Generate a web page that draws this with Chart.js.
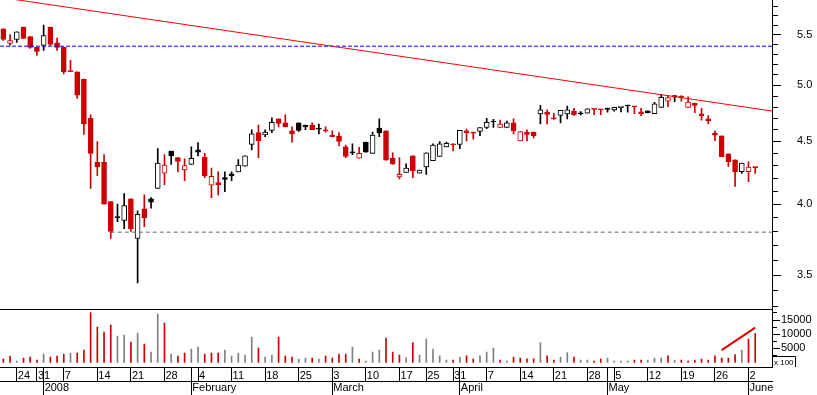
<!DOCTYPE html>
<html>
<head>
<meta charset="utf-8">
<script src="https://cdn.jsdelivr.net/npm/chart.js@4.4.1/dist/chart.umd.min.js"></script>
<style>
  html, body { margin: 0; padding: 0; background: #fff; }
</style>
</head>
<body>
<canvas id="chart" width="817" height="395"></canvas>
<script>
// trading days, one list per month
const monthYear = [[2007, 11], [2008, 0], [2008, 1], [2008, 2], [2008, 3], [2008, 4], [2008, 5]];
const monthLabels = ['', '2008', 'February', 'March', 'April', 'May', 'June'];
const monthDays = [
  [20, 21, 24, 27, 28, 31],
  [2, 3, 4, 7, 8, 9, 10, 11, 14, 15, 16, 17, 18, 21, 22, 23, 24, 25, 28, 29, 30, 31],
  [1, 4, 5, 6, 7, 8, 11, 12, 13, 14, 15, 18, 19, 20, 21, 22, 25, 26, 27, 28, 29],
  [3, 4, 5, 6, 7, 10, 11, 12, 13, 14, 17, 18, 19, 20, 25, 26, 27, 28, 31],
  [1, 2, 3, 4, 7, 8, 9, 10, 11, 14, 15, 16, 17, 18, 21, 22, 23, 24, 25, 28, 29, 30],
  [1, 5, 6, 7, 8, 9, 12, 13, 14, 15, 16, 19, 20, 21, 22, 23, 26, 27, 28, 29, 30],
  [2, 3]
];

const opens = [
  5.56, 5.41, 5.45, 5.58, 5.48, 5.37, 5.39, 5.58, 5.415, 5.37,
  5.14, 5.13, 5.06, 4.70, 4.33, 4.33, 4.02, 3.90, 3.88, 4.04,
  3.75, 3.965, 4.04, 4.12, 4.24, 4.42, 4.365, 4.265, 4.31, 4.43,
  4.37, 4.145, 4.165, 4.205, 4.235, 4.25, 4.295, 4.475, 4.575, 4.555,
  4.595, 4.695, 4.66, 4.59, 4.66, 4.64, 4.64, 4.615, 4.60, 4.555,
  4.545, 4.455, 4.405, 4.36, 4.495, 4.40, 4.615, 4.59, 4.36, 4.21,
  4.245, 4.38, 4.24, 4.29, 4.34, 4.375, 4.455, 4.48, 4.475, 4.59,
  4.58, 4.585, 4.62, 4.668, 4.62, 4.62, 4.66, 4.505, 4.58, 4.58,
  4.74, 4.755, 4.705, 4.725, 4.74, 4.765, 4.74, 4.745, 4.782, 4.778,
  4.792, 4.775, 4.795, 4.818, 4.807, 4.757, 4.767, 4.742, 4.798, 4.855,
  4.905, 4.895, 4.798, 4.837, 4.74, 4.695, 4.57, 4.547, 4.397, 4.347,
  4.252, 4.252, 4.288
];
const highs = [
  5.56, 5.50, 5.53, 5.58, 5.48, 5.37, 5.60, 5.58, 5.465, 5.37,
  5.24, 5.13, 5.06, 4.73, 4.50, 4.39, 4.02, 4.00, 4.08, 4.04,
  3.95, 4.07, 4.05, 4.44, 4.39, 4.42, 4.365, 4.355, 4.455, 4.49,
  4.40, 4.28, 4.25, 4.25, 4.25, 4.35, 4.38, 4.60, 4.64, 4.60,
  4.705, 4.695, 4.73, 4.625, 4.66, 4.64, 4.66, 4.65, 4.625, 4.59,
  4.575, 4.47, 4.48, 4.45, 4.495, 4.58, 4.695, 4.59, 4.405, 4.365,
  4.315, 4.38, 4.265, 4.405, 4.48, 4.50, 4.495, 4.48, 4.595, 4.605,
  4.58, 4.62, 4.70, 4.69, 4.685, 4.675, 4.695, 4.585, 4.60, 4.58,
  4.815, 4.775, 4.745, 4.77, 4.81, 4.79, 4.76, 4.785, 4.782, 4.778,
  4.792, 4.798, 4.808, 4.818, 4.807, 4.79, 4.767, 4.843, 4.914, 4.908,
  4.905, 4.905, 4.893, 4.837, 4.79, 4.724, 4.59, 4.547, 4.397, 4.347,
  4.32, 4.331, 4.288
];
const lows = [
  5.44, 5.39, 5.42, 5.46, 5.36, 5.29, 5.34, 5.39, 5.34, 5.11,
  5.13, 4.88, 4.56, 4.12, 4.22, 4.00, 3.75, 3.87, 3.82, 3.80,
  3.45, 3.835, 3.97, 4.12, 4.15, 4.31, 4.25, 4.18, 4.31, 4.38,
  4.205, 4.05, 4.07, 4.095, 4.18, 4.25, 4.295, 4.43, 4.365, 4.54,
  4.575, 4.625, 4.625, 4.495, 4.585, 4.60, 4.60, 4.565, 4.58, 4.54,
  4.465, 4.365, 4.39, 4.36, 4.41, 4.40, 4.54, 4.345, 4.31, 4.195,
  4.245, 4.205, 4.24, 4.23, 4.34, 4.375, 4.455, 4.42, 4.44, 4.505,
  4.52, 4.55, 4.61, 4.62, 4.62, 4.62, 4.565, 4.505, 4.505, 4.53,
  4.65, 4.65, 4.69, 4.66, 4.695, 4.725, 4.73, 4.745, 4.733, 4.733,
  4.755, 4.763, 4.757, 4.755, 4.742, 4.724, 4.749, 4.742, 4.798, 4.804,
  4.85, 4.854, 4.798, 4.751, 4.683, 4.651, 4.507, 4.374, 4.293, 4.135,
  4.237, 4.173, 4.237
];
const closes = [
  5.45, 5.44, 5.53, 5.46, 5.37, 5.33, 5.49, 5.40, 5.37, 5.13,
  5.13, 4.91, 4.65, 4.40, 4.29, 4.00, 3.80, 3.90, 3.99, 3.82,
  3.925, 3.90, 4.015, 4.32, 4.305, 4.38, 4.335, 4.30, 4.36, 4.41,
  4.22, 4.215, 4.15, 4.19, 4.22, 4.305, 4.38, 4.565, 4.505, 4.58,
  4.665, 4.655, 4.625, 4.565, 4.595, 4.625, 4.60, 4.605, 4.59, 4.54,
  4.50, 4.375, 4.405, 4.40, 4.41, 4.555, 4.575, 4.345, 4.315, 4.23,
  4.28, 4.26, 4.265, 4.405, 4.47, 4.48, 4.485, 4.47, 4.595, 4.575,
  4.57, 4.62, 4.665, 4.668, 4.65, 4.66, 4.59, 4.585, 4.56, 4.55,
  4.775, 4.735, 4.695, 4.77, 4.775, 4.73, 4.74, 4.785, 4.78, 4.775,
  4.78, 4.798, 4.808, 4.81, 4.803, 4.742, 4.749, 4.83, 4.89, 4.887,
  4.893, 4.889, 4.846, 4.815, 4.724, 4.68, 4.553, 4.374, 4.333, 4.252,
  4.32, 4.288, 4.284
];
// volume in hundreds
const volumes = [
  1240, 2300, 530, 1590, 1940, 880, 3000, 1940, 2300, 3000,
  3360, 3360, 4420, 17600, 12550, 10780, 13250, 9360, 9720, 7240,
  10430, 6540, 3710, 17140, 13960, 3000, 2300, 3360, 4770, 5480,
  3000, 3360, 3360, 4420, 2300, 3360, 2650, 9010, 5120, 1940,
  2650, 9010, 2300, 1940, 1240, 1590, 1590, 1240, 2300, 1590,
  3000, 3000, 5480, 1240, 530, 3710, 4420, 8660, 3710, 2650,
  1700, 7000, 2650, 8300, 4770, 2400, 880, 880, 1940, 2400,
  1240, 2400, 3710, 5120, 880, 530, 1940, 1590, 1340, 1340,
  7000, 2400, 880, 1940, 3470, 1940, 880, 880, 530, 1240,
  1590, 530, 530, 530, 880, 880, 880, 1590, 1590, 2400,
  880, 880, 530, 880, 1240, 880, 2400, 1590, 1590, 2760,
  4420, 8300, 10320
];

// drawn studies, in (day index, value)
const resistanceLine = [{x: -0.5, y: 5.90}, {x: 114.5, y: 4.765}];
const blueLevel = [{x: -0.5, y: 5.382}, {x: 114.5, y: 5.382}];
const supportLevel = [{x: 16, y: 3.795}, {x: 114.5, y: 3.795}];
const volumeTrend = [{x: 107, y: 4400}, {x: 112, y: 12300}];

const priceLabels = ['3.5', '4.0', '4.5', '5.0', '5.5'];
const volLabels = [5000, 10000, 15000];

const X_MIN = -0.5, X_MAX = 114.5;
const P_MIN = 3.283, P_MAX = 5.870;
const V_MIN = -1590, V_MAX = 18800;

const RED = '#cc0000', BLACK = '#000000', GREY = '#808080';
const FONT = "'Liberation Sans', Arial, sans-serif";

// day index -> labels for the two date rows
const dayTicks = [];
const monthTicks = [];
{
  let i = 0, prevDow = null;
  monthDays.forEach((days, m) => {
    days.forEach((d, k) => {
      const dow = new Date(monthYear[m][0], monthYear[m][1], d).getDay();
      if (prevDow !== null && dow <= prevDow) dayTicks.push({value: i, label: String(d)});
      if (k === 0 && m > 0) monthTicks.push({value: i, label: monthLabels[m]});
      prevDow = dow;
      i++;
    });
  });
}
const dayLabelAt = {};
dayTicks.forEach(t => { dayLabelAt[t.value] = t.label; });
const monthLabelAt = {};
monthTicks.forEach(t => { monthLabelAt[t.value] = t.label; });
const row1Values = [...new Set(dayTicks.concat(monthTicks).map(t => t.value))].sort((a, b) => a - b);

const idx = closes.map((_, i) => i);
const candleRed = closes.map((c, i) => i === 0 ? c < opens[i] : c <= closes[i - 1]);
const volRed = closes.map((c, i) => i === 0 ? c < opens[i] : c < closes[i - 1]);
const candleColor = candleRed.map(r => r ? RED : BLACK);
const bodyFill = idx.map(i => closes[i] > opens[i] ? '#ffffff' : candleColor[i]);

const fitX = s => { s.height = 14; s.paddingLeft = 0; s.paddingRight = 0; };
const fitY = s => { s.width = 45; s.paddingTop = 0; s.paddingBottom = 0; };
const isPriceMajor = ctx => ctx.tick && priceLabels.includes(ctx.tick.value.toFixed(1));

const extras = {
  id: 'extras',
  afterDraw(chart) {
    const {ctx, chartArea} = chart;
    const vol = chart.scales.vol;
    ctx.save();
    // date rows end at the price axis
    ctx.fillStyle = '#fff';
    ctx.fillRect(chartArea.right + 1, chartArea.bottom + 1, chart.width, chart.height);
    // "x 100" unit box
    const l = Math.round(vol.left), b = Math.round(vol.bottom);
    ctx.strokeStyle = '#000';
    ctx.lineWidth = 1;
    ctx.beginPath();
    ctx.moveTo(l, b - 10.5);
    ctx.lineTo(l + 23.5, b - 10.5);
    ctx.lineTo(l + 23.5, b);
    ctx.stroke();
    ctx.fillStyle = '#000';
    ctx.font = '8px ' + FONT;
    ctx.textBaseline = 'alphabetic';
    ctx.fillText('x 100', l + 2, b - 2);
    ctx.restore();
  }
};

new Chart(document.getElementById('chart'), {
  type: 'bar',
  data: {
    datasets: [
      {
        type: 'line', data: resistanceLine, borderColor: '#ff0000', borderWidth: 1,
        pointRadius: 0, order: 0, xAxisID: 'x', yAxisID: 'y'
      },
      {
        type: 'line', data: blueLevel, borderColor: '#0000ff', borderWidth: 1, borderDash: [4, 2],
        pointRadius: 0, order: 0, xAxisID: 'x', yAxisID: 'y'
      },
      {
        type: 'line', data: supportLevel, borderColor: '#646464', borderWidth: 1, borderDash: [4, 3],
        pointRadius: 0, order: 0, xAxisID: 'x', yAxisID: 'y'
      },
      {
        type: 'line', data: volumeTrend, borderColor: '#dd0000', borderWidth: 2,
        pointRadius: 0, order: 0, xAxisID: 'x', yAxisID: 'vol'
      },
      {
        label: 'body',
        data: idx.map(i => ({x: i, y: [opens[i], closes[i]]})),
        backgroundColor: bodyFill, borderColor: candleColor, borderWidth: 1, borderSkipped: false,
        barThickness: 5, maxBarThickness: 5, minBarLength: 1, grouped: false, order: 1,
        xAxisID: 'x', yAxisID: 'y'
      },
      {
        label: 'wick',
        data: idx.map(i => ({x: i, y: [lows[i], highs[i]]})),
        backgroundColor: candleColor, borderWidth: 0,
        barThickness: 1, maxBarThickness: 1, grouped: false, order: 2,
        xAxisID: 'x', yAxisID: 'y'
      },
      {
        label: 'volume',
        data: idx.map(i => ({x: i, y: volumes[i]})),
        backgroundColor: volRed.map(r => r ? RED : GREY), borderWidth: 0,
        barThickness: 1, maxBarThickness: 1, grouped: false, order: 3,
        xAxisID: 'x', yAxisID: 'vol'
      }
    ]
  },
  options: {
    responsive: false,
    animation: false,
    devicePixelRatio: 1,
    events: [],
    layout: { padding: 0 },
    plugins: { legend: { display: false }, tooltip: { enabled: false } },
    scales: {
      x: {
        type: 'linear', position: 'bottom', min: X_MIN, max: X_MAX, offset: false,
        afterBuildTicks: s => { s.ticks = row1Values.map(v => ({value: v})); },
        afterFit: fitX,
        ticks: {
          autoSkip: false, maxRotation: 0, minRotation: 0, align: 'start', padding: -11.8, labelOffset: 1,
          color: '#000', font: { family: FONT, size: 11 },
          callback: v => dayLabelAt[v] || ''
        },
        grid: { drawOnChartArea: false, offset: false, tickLength: 14, tickColor: '#000', color: '#000' },
        border: { color: '#000' }
      },
      x2: {
        type: 'linear', axis: 'x', position: 'bottom', min: X_MIN, max: X_MAX, offset: false,
        afterBuildTicks: s => { s.ticks = monthTicks.map(t => ({value: t.value})); },
        afterFit: fitX,
        ticks: {
          autoSkip: false, maxRotation: 0, minRotation: 0, align: 'start', padding: -13.3, labelOffset: 1,
          color: '#000', font: { family: FONT, size: 11 },
          callback: v => monthLabelAt[v] || ''
        },
        grid: { drawOnChartArea: false, offset: false, tickLength: 14, tickColor: '#000', color: '#000' },
        border: { color: '#000' }
      },
      y: {
        type: 'logarithmic', position: 'right', stack: 'panels', stackWeight: 309.3,
        min: P_MIN, max: P_MAX, bounds: 'data',
        afterBuildTicks: s => {
          const t = [];
          for (let k = 33; k <= 58; k++) t.push({value: k / 10});
          s.ticks = t;
        },
        afterFit: fitY,
        ticks: {
          autoSkip: false, padding: 16, color: '#000', font: { family: FONT, size: 11 },
          callback: v => { const l = Number(v).toFixed(1); return priceLabels.includes(l) ? l : ''; }
        },
        grid: {
          drawOnChartArea: false, tickLength: 9, tickColor: '#000',
          tickBorderDash: ctx => isPriceMajor(ctx) ? [] : [5, 20]
        },
        border: { color: '#000' }
      },
      vol: {
        type: 'linear', axis: 'y', position: 'right', stack: 'panels', stackWeight: 57.7,
        min: V_MIN, max: V_MAX,
        afterBuildTicks: s => {
          const t = [];
          for (let v = 2500; v <= 17500; v += 2500) t.push({value: v});
          t.push({value: V_MAX});
          s.ticks = t;
        },
        afterFit: fitY,
        ticks: {
          autoSkip: false, padding: 1, color: '#000', font: { family: FONT, size: 11 },
          callback: v => volLabels.includes(v) ? String(v) : ''
        },
        grid: {
          drawOnChartArea: true, tickLength: 8,
          color: ctx => ctx.tick && ctx.tick.value === V_MAX ? '#000' : 'rgba(0,0,0,0)',
          tickColor: ctx => ctx.tick && ctx.tick.value === V_MAX ? 'rgba(0,0,0,0)' : '#000',
          tickBorderDash: ctx => ctx.tick && volLabels.includes(ctx.tick.value) ? [] : [4, 20]
        },
        border: { color: '#000' }
      }
    }
  },
  plugins: [extras]
});
</script>
</body>
</html>
